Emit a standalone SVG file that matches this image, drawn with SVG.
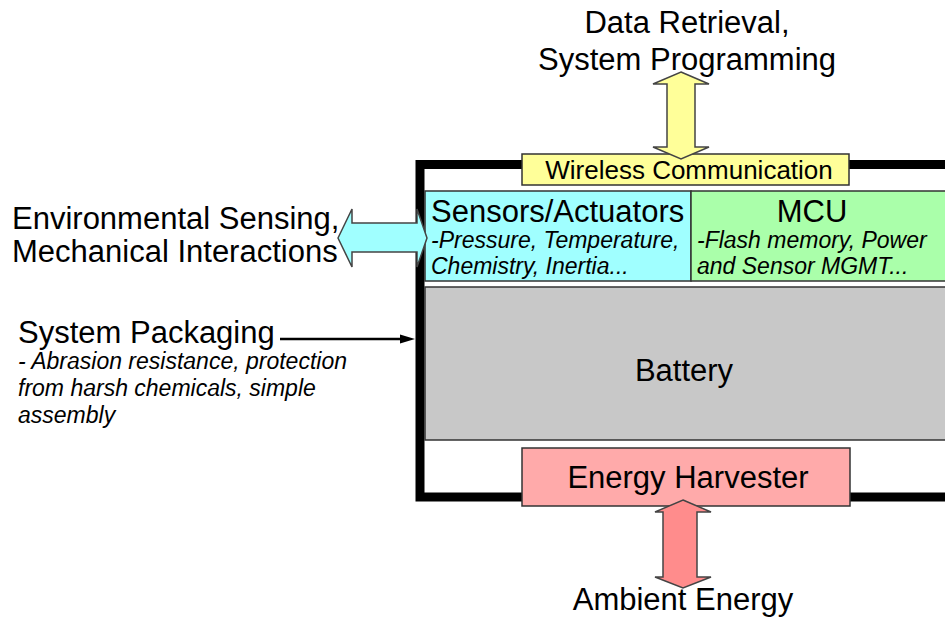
<svg xmlns="http://www.w3.org/2000/svg" width="945" height="618" viewBox="0 0 945 618">
<style>
text{font-family:"Liberation Sans",Arial,sans-serif;fill:#000}
.big{font-size:31px}
.it{font-size:23px;font-style:italic}
.box{stroke:#333;stroke-width:1.5}
.arr{stroke:#444;stroke-width:1.5}
</style>
<rect width="945" height="618" fill="#fff"/>
<g id="frame"><rect x="420" y="164.5" width="560" height="332.5" fill="#fff" stroke="#000" stroke-width="9"/></g>
<g id="sensors"><rect class="box" x="425" y="191" width="266" height="90" fill="#a0ffff"/>
<text class="big" x="431" y="222">Sensors/Actuators</text>
<text class="it" x="431" y="248">-Pressure, Temperature,</text>
<text class="it" x="431" y="274">Chemistry, Inertia...</text></g>
<g id="mcu"><rect class="box" x="691" y="191" width="260" height="90" fill="#aaffaa"/>
<text class="big" x="812" y="222" text-anchor="middle">MCU</text>
<text class="it" x="697" y="248">-Flash memory, Power</text>
<text class="it" x="697" y="274">and Sensor MGMT...</text></g>
<g id="battery"><rect class="box" x="425" y="287" width="526" height="153" fill="#c8c8c8"/>
<text class="big" x="684" y="381" text-anchor="middle">Battery</text></g>
<g id="wireless"><rect class="box" x="522" y="154" width="327" height="31" fill="#ffff99"/>
<text x="689" y="179" text-anchor="middle" font-size="26">Wireless Communication</text></g>
<g id="harvester"><rect class="box" x="522" y="448" width="328" height="58" fill="#ffaaaa"/>
<text class="big" x="688" y="488" text-anchor="middle">Energy Harvester</text></g>
<g id="connectors">
<polygon class="arr" fill="#ffff99" points="681,72 709,84 695,84 695,147 709,147 681,159 653,147 667,147 667,84 653,84"/>
<polygon class="arr" fill="#ff8c8c" points="683,500 711,512 697,512 697,577 711,577 683,588 655,577 663,577 663,512 655,512"/>
<polygon class="arr" fill="#a0ffff" points="338,238 352,209 352,223 417,223 417,209 427,238 417,267 417,252 352,252 352,267"/>
<line x1="280" y1="339" x2="402" y2="339" stroke="#000" stroke-width="2.5"/>
<polygon points="415,339 400,334.5 400,343.5" fill="#000"/>
</g>
<g id="labels">
<text class="big" x="687" y="33" text-anchor="middle">Data Retrieval,</text>
<text class="big" x="687" y="70" text-anchor="middle">System Programming</text>
<text class="big" x="12" y="229">Environmental Sensing,</text>
<text class="big" x="12" y="262">Mechanical Interactions</text>
<text class="big" x="18" y="343">System Packaging</text>
<text class="it" x="18" y="369">- Abrasion resistance, protection</text>
<text class="it" x="18" y="396">from harsh chemicals, simple</text>
<text class="it" x="18" y="423">assembly</text>
<text class="big" x="683" y="610" text-anchor="middle">Ambient Energy</text>
</g>
</svg>
